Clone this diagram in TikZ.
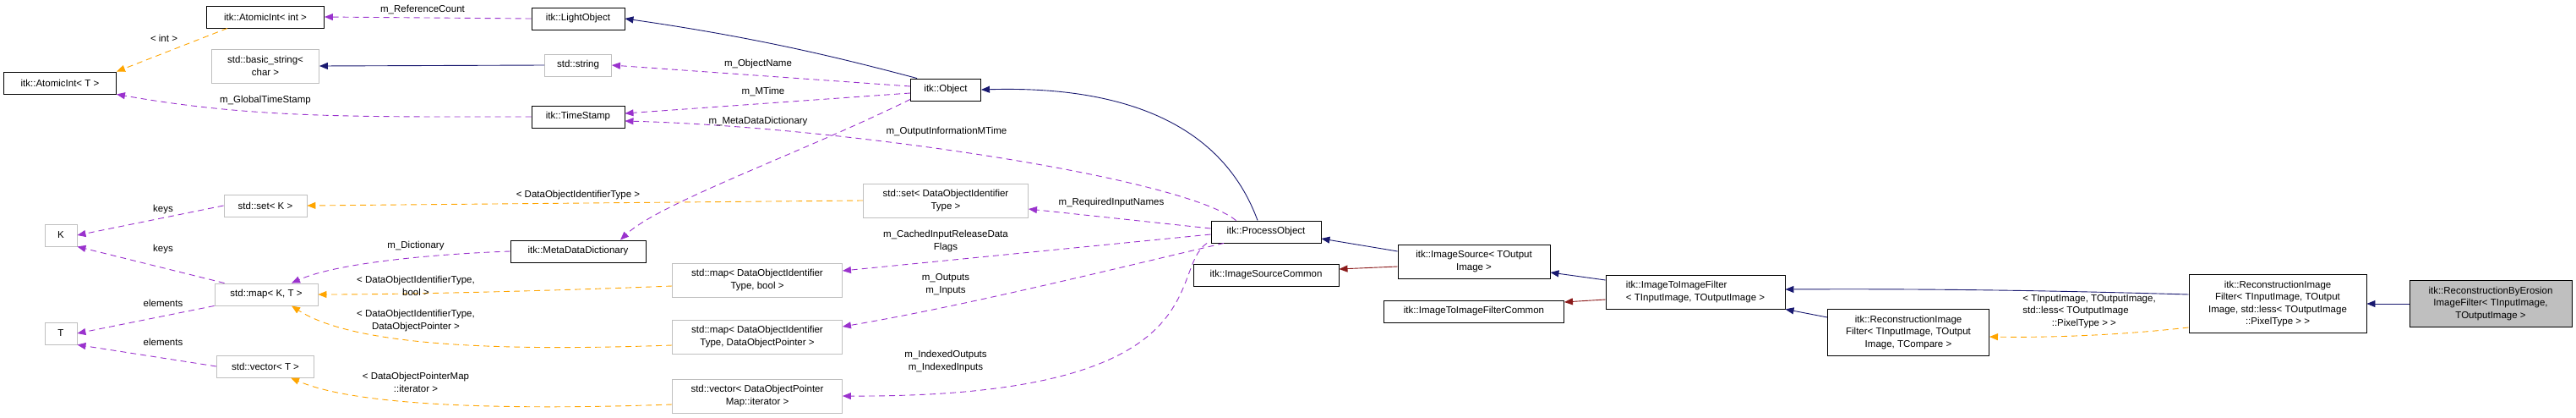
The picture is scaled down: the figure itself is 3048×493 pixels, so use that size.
\documentclass[tikz,border=0pt]{standalone}
\usepackage{fontspec}
\setmainfont{Liberation Sans}
\usetikzlibrary{arrows.meta}
\definecolor{inh}{HTML}{191970}
\definecolor{use}{HTML}{9A32CD}
\definecolor{tpl}{HTML}{FFA500}
\definecolor{prv}{HTML}{8B1A1A}
\definecolor{gry}{HTML}{BFBFBF}
\begin{document}
\begin{tikzpicture}[x=1pt,y=-1pt,
  every node/.style={font=\fontsize{11.5}{14.5}\selectfont},
  box/.style={draw=black,line width=0.9pt,rectangle,inner sep=2pt,align=center,fill=white},
  gbox/.style={box,draw=gry},
  lbl/.style={align=center,inner sep=0pt},
  tip/.style={-{Triangle[length=10pt,width=8pt]}},
  inhe/.style={tip,draw=inh,line width=0.9pt},
  usee/.style={tip,draw=use,dashed,dash pattern=on 7pt off 5pt,line width=0.9pt},
  tple/.style={tip,draw=tpl,dashed,dash pattern=on 7pt off 5pt,line width=0.9pt},
  prve/.style={tip,draw=prv,line width=0.9pt}]
\useasboundingbox (0,0) rectangle (3048,493);
\node[box,minimum width=139,minimum height=26] (ai) at (314,20) {itk::AtomicInt< int >};
\node[box,minimum width=110,minimum height=26] (lo) at (684,22) {itk::LightObject};
\node[gbox,minimum width=127,minimum height=40] (bs) at (314,78) {std::basic\_string<\\char >};
\node[gbox,minimum width=79,minimum height=26] (ss) at (684,77) {std::string};
\node[box,minimum width=133,minimum height=26] (at) at (71,98) {itk::AtomicInt< T >};
\node[box,minimum width=110,minimum height=26] (ts) at (684,138) {itk::TimeStamp};
\node[gbox,minimum width=98,minimum height=26] (sk) at (314,243) {std::set< K >};
\node[gbox,minimum width=38,minimum height=26] (K) at (72,278) {K};
\node[box,minimum width=160,minimum height=26] (md) at (684,297) {itk::MetaDataDictionary};
\node[gbox,minimum width=122,minimum height=26] (mkt) at (315,348) {std::map< K, T >};
\node[gbox,minimum width=38,minimum height=26] (T) at (72,394) {T};
\node[gbox,minimum width=115,minimum height=26] (vt) at (314,433) {std::vector< T >};
\node[box,minimum width=83,minimum height=26] (ob) at (1119,106) {itk::Object};
\node[gbox,minimum width=195,minimum height=40] (sd) at (1119,237) {std::set< DataObjectIdentifier\\Type >};
\node[box,minimum width=130,minimum height=26] (po) at (1498,274) {itk::ProcessObject};
\node[box,minimum width=172,minimum height=26] (isc) at (1498,325) {itk::ImageSourceCommon};
\node[gbox,minimum width=201,minimum height=40] (mb) at (896,331) {std::map< DataObjectIdentifier\\Type, bool >};
\node[gbox,minimum width=201,minimum height=40] (mp) at (896,398) {std::map< DataObjectIdentifier\\Type, DataObjectPointer >};
\node[gbox,minimum width=201,minimum height=40] (vd) at (896,468) {std::vector< DataObjectPointer\\Map::iterator >};
\node[box,minimum width=180,minimum height=40] (is) at (1744,309) {itk::ImageSource< TOutput\\Image >};
\node[box,minimum width=213,minimum height=26] (itc) at (1744,368) {itk::ImageToImageFilterCommon};
\node[box,minimum width=212,minimum height=40,align=left] (itf) at (2006,345) {itk::ImageToImageFilter\\< TInputImage, TOutputImage >};
\node[box,minimum width=191,minimum height=55] (rc) at (2258,393) {itk::ReconstructionImage\\Filter< TInputImage, TOutput\\Image, TCompare >};
\node[box,minimum width=210,minimum height=69] (rl) at (2695,359) {itk::ReconstructionImage\\Filter< TInputImage, TOutput\\Image, std::less< TOutputImage\\::PixelType > >};
\node[box,fill=gry,minimum width=192,minimum height=55] (er) at (2947,359) {itk::ReconstructionByErosion\\ImageFilter< TInputImage,\\TOutputImage >};

% edges
\draw[usee] (lo.west) -- (ai.east);
\node[lbl] at (500,11) {m\_ReferenceCount};
\coordinate (c1) at ([xshift=-45]ai.south);
\draw[tple] (c1) -- (at.north east);
\node[lbl] at (194,45) {< int >};
\draw[inhe] (ss.west) -- (bs.east);
\draw[usee] (ts.west) .. controls (420,138) and (300,140) .. (at.south east);
\node[lbl] at (314,119) {m\_GlobalTimeStamp};
\coordinate (c2) at ([xshift=8]ob.north west);
\draw[inhe] (c2) .. controls (1000,70) and (900,45) .. (lo.east);
\coordinate (c3) at ([yshift=4]ob.west);
\draw[usee] (c3) -- (ss.east);
\node[lbl] at (897,76) {m\_ObjectName};
\coordinate (c4) at ([yshift=-4]ob.west);
\draw[usee] (c4) -- ([yshift=4]ts.east);
\node[lbl] at (903,108) {m\_MTime};
\coordinate (c5) at ([xshift=30]po.north west);
\draw[usee] (c5) .. controls (1400,210) and (1000,150) .. ([yshift=-5]ts.east);
\node[lbl] at (1120,156) {m\_OutputInformationMTime};
\coordinate (c6) at ([yshift=2]ob.south west);
\draw[usee] (c6) .. controls (950,180) and (780,240) .. ([xshift=50]md.north);
\node[lbl] at (897,144) {m\_MetaDataDictionary};
\coordinate (c7) at ([xshift=-10]po.north);
\draw[inhe] (c7) .. controls (1440,130) and (1300,102) .. (ob.east);
\draw[tple] (sd.west) -- (sk.east);
\node[lbl] at (684,231) {< DataObjectIdentifierType >};
\draw[usee] (sk.west) -- (K.east);
\node[lbl] at (193,248) {keys};
\coordinate (c8) at ([xshift=12]mkt.north west);
\draw[usee] (c8) -- (K.south east);
\node[lbl] at (193,295) {keys};
\draw[usee] (mkt.south west) -- (T.east);
\node[lbl] at (193,358) {elements};
\draw[usee] (vt.west) -- (T.south east);
\node[lbl] at (193,404) {elements};
\draw[usee] (md.west) .. controls (520,300) and (400,310) .. ([xshift=30]mkt.north);
\node[lbl] at (492,291) {m\_Dictionary};
\draw[tple] ([yshift=-7]mb.west) .. controls (700,342) and (500,348) .. (mkt.east);
\node[lbl] at (492,338) {< DataObjectIdentifierType,\\bool >};
\draw[tple] ([yshift=-10]mp.west) .. controls (600,415) and (420,410) .. ([xshift=30]mkt.south);
\node[lbl] at (492,379) {< DataObjectIdentifierType,\\DataObjectPointer >};
\draw[tple] ([yshift=-10]vd.west) .. controls (600,485) and (420,480) .. ([xshift=30]vt.south);
\node[lbl] at (492,452) {< DataObjectPointerMap\\::iterator >};
\draw[usee] ([yshift=4]po.west) -- ([yshift=-10]sd.east);
\node[lbl] at (1315,240) {m\_RequiredInputNames};
\draw[usee] ([yshift=-3]po.west) -- ([yshift=11]mb.east);
\node[lbl] at (1119,285) {m\_CachedInputReleaseData\\Flags};
\draw[usee] ([xshift=-50]po.south) .. controls (1350,310) and (1150,360) .. ([yshift=12]mp.east);
\node[lbl] at (1119,336) {m\_Outputs\\m\_Inputs};
\draw[usee] ([xshift=-70]po.south) .. controls (1380,320) and (1450,470) .. (vd.east);
\node[lbl] at (1119,427) {m\_IndexedOutputs\\m\_IndexedInputs};
\draw[inhe] ([yshift=12]is.west) -- ([yshift=-8]po.east);
\draw[prve] ([yshift=-6]is.west) -- ([yshift=7]isc.east);
\draw[inhe] ([yshift=14]itf.west) -- ([yshift=-13]is.east);
\draw[prve] ([yshift=-9]itf.west) -- ([yshift=11]itc.east);
\draw[inhe] ([yshift=18]rc.west) -- (itf.south east);
\draw[inhe] ([yshift=11]rl.west) .. controls (2450,344) and (2300,341) .. ([yshift=3]itf.east);
\draw[tple] ([yshift=-28]rl.west) .. controls (2500,397) and (2420,399) .. ([yshift=-5]rc.east);
\node[lbl,align=left] at (2472,368) {< TInputImage, TOutputImage,\\std::less< TOutputImage\\\quad\quad\quad ::PixelType > >};
\draw[inhe] (er.west) -- (rl.east);
\end{tikzpicture}
\end{document}
